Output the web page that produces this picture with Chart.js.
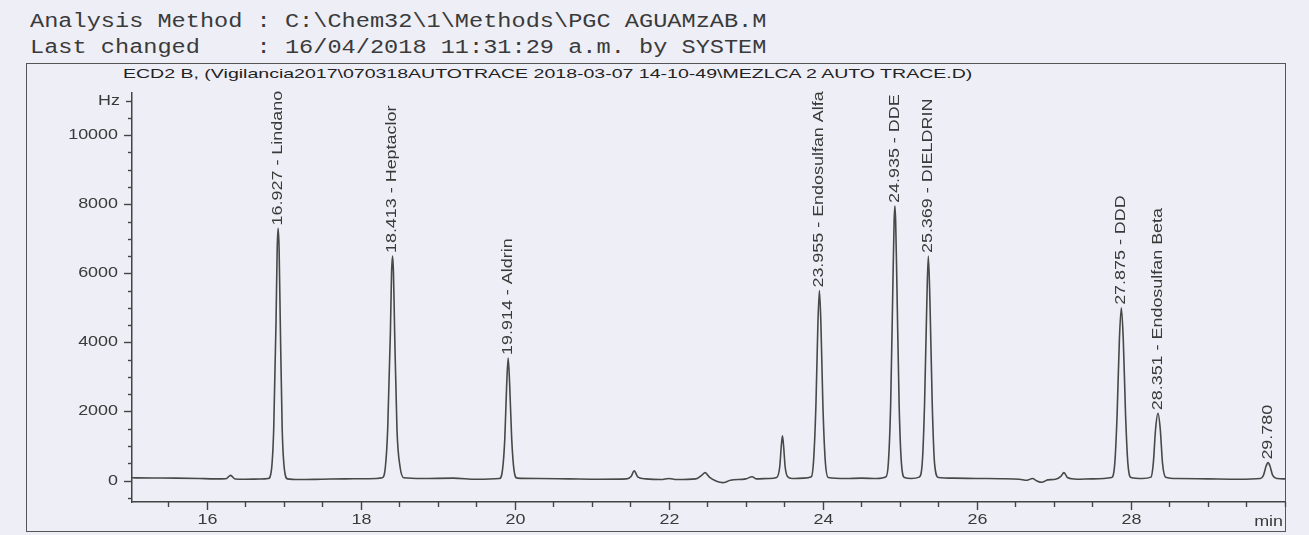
<!DOCTYPE html>
<html>
<head>
<meta charset="utf-8">
<script src="https://cdn.jsdelivr.net/npm/chart.js@4"></script>
<style>
  body { margin: 0; width: 1309px; height: 535px; overflow: hidden; position: relative; background: #eeeef6; }
  .hdr { position: absolute; left: 30px; font: 20px "Liberation Mono", monospace; line-height: 20px; color: #3a3a3a;
         white-space: pre; transform-origin: 0 0; transform: scaleX(1.18); }
  #frame { position: absolute; left: 26px; top: 63px; width: 1260px; height: 469px; border: 1.5px solid #555; box-sizing: border-box; }
  #ttl { position: absolute; left: 123px; top: 66px; font: 13px "Liberation Sans", Arial, sans-serif; line-height: 16px;
         color: #222; white-space: pre; transform-origin: 0 0; }
  canvas { position: absolute; left: 0; top: 0; }
</style>
</head>
<body>
<div class="hdr" style="top:12px">Analysis Method : C:\Chem32\1\Methods\PGC AGUAMzAB.M</div>
<div class="hdr" style="top:38px">Last changed    : 16/04/2018 11:31:29 a.m. by SYSTEM</div>
<div id="frame"></div>
<div id="ttl">ECD2 B, (Vigilancia2017\070318AUTOTRACE 2018-03-07 14-10-49\MEZLCA 2 AUTO TRACE.D)</div>
<canvas id="chrom" width="1309" height="535"></canvas>
<script>
// ==== Trace (retention time in min, signal in Hz) ====
var traceTime = [
  15.03, 15.3, 15.6, 15.9, 16.1, 16.25, 16.31, 16.37, 16.5, 16.7, 16.80,
  16.84, 16.87, 16.90, 16.915, 16.927, 16.94, 16.955, 16.98, 17.01, 17.05,
  17.2, 17.5, 17.8, 18.1, 18.28,
  18.32, 18.35, 18.385, 18.40, 18.413, 18.425, 18.44, 18.47, 18.51, 18.56,
  18.8, 19.2, 19.5, 19.8,
  19.84, 19.87, 19.895, 19.914, 19.933, 19.96, 19.99, 20.03,
  20.3, 20.7, 21.1, 21.45, 21.51, 21.55, 21.6, 21.7, 21.9, 22.0, 22.1, 22.35, 22.43, 22.47, 22.53,
  22.62, 22.7, 22.8, 23.0, 23.08, 23.14, 23.3, 23.40,
  23.44, 23.46, 23.475, 23.49, 23.51, 23.54, 23.6, 23.75, 23.85,
  23.88, 23.91, 23.935, 23.955, 23.975, 24.0, 24.03, 24.07,
  24.3, 24.5, 24.7, 24.82,
  24.85, 24.88, 24.91, 24.925, 24.935, 24.945, 24.96, 24.99, 25.02, 25.06,
  25.15, 25.25,
  25.29, 25.32, 25.35, 25.369, 25.39, 25.42, 25.45, 25.50,
  25.7, 26.0, 26.3, 26.55, 26.65, 26.72, 26.78, 26.84, 26.92, 27.02, 27.09, 27.13, 27.18, 27.3, 27.5, 27.75,
  27.79, 27.82, 27.85, 27.875, 27.90, 27.93, 27.96, 28.0,
  28.15, 28.26,
  28.29, 28.32, 28.351, 28.38, 28.41, 28.45,
  28.6, 29.0, 29.4, 29.68,
  29.72, 29.755, 29.78, 29.805, 29.84, 29.9, 30.0
];
var traceHz = [
  80, 75, 70, 60, 50, 55, 150, 45, 40, 45, 60,
  300, 1500, 4600, 6700, 7300, 6700, 4600, 1500, 300, 50,
  30, 40, 50, 55, 80,
  400, 1500, 4300, 6000, 6500, 6000, 4300, 1500, 400, 80,
  60, 70, 40, 60,
  300, 1200, 2800, 3550, 2800, 1200, 300, 70,
  60, 50, 40, 50, 120, 280, 100, 50, 30, 60, 30, 50, 160, 230, 90,
  -20, -60, 10, 50, 110, 50, 60, 90,
  400, 1000, 1300, 1000, 400, 120, 60, 70, 110,
  600, 2200, 4500, 5500, 4500, 2200, 600, 90,
  60, 70, 60, 110,
  500, 2200, 5800, 7500, 7950, 7500, 5800, 2200, 500, 90,
  60, 100,
  500, 2200, 5200, 6500, 5200, 2200, 500, 90,
  70, 60, 55, 40, 10, 60, -10, -50, 20, 40, 120, 230, 80, 40, 50, 90,
  500, 1900, 4100, 5000, 4100, 1900, 500, 90,
  60, 100,
  500, 1500, 1950, 1500, 500, 100,
  60, 50, 40, 60,
  150, 420, 520, 420, 150, 60, 50
];

// ==== Peak labels ====
var peakTime = [16.927, 18.413, 19.914, 23.955, 24.935, 25.369, 27.875, 28.351, 29.780];
var peakApex = [7300, 6500, 3550, 5500, 7950, 6500, 5000, 1950, 520];
var peakName = ['Lindano', 'Heptaclor', 'Aldrin', 'Endosulfan Alfa', 'DDE', 'DIELDRIN', 'DDD', 'Endosulfan Beta', ''];

// ==== Axis ticks ====
var yLabelled = [0, 2000, 4000, 6000, 8000, 10000];
var yUnitTick = 11000;   // the "Hz" tick
var xLabelled = [16, 18, 20, 22, 24, 26, 28];
var yMinorStep = 500;
var xMinorStep = 0.5;

var points = [];
for (var i in traceTime) {
    points.push({ x: traceTime[i], y: traceHz[i] });
}

var STRETCH = 1.28; // printout font is wider than Arial
var INK = '#3a3a3a';

function wideText(ctx, txt, x, y, align) {
    ctx.save();
    ctx.translate(x, y);
    ctx.scale(STRETCH, 1);
    ctx.textAlign = align;
    ctx.fillText(txt, 0, 0);
    ctx.restore();
}

// every step inside the scale range
function stepTicks(s, step) {
    var out = [];
    var n0 = Math.ceil(s.min / step - 1e-9), n1 = Math.floor(s.max / step + 1e-9);
    for (var n = n0; n <= n1; n++) out.push({ value: Math.round(n * step * 1000) / 1000 });
    s.ticks = out;
}

// draws ticks, tick labels and peak labels
var printMarks = {
    id: 'printMarks',
    afterDraw: function(chart) {
        var ctx = chart.ctx, a = chart.chartArea;
        var x = chart.scales.x, y = chart.scales.y;
        ctx.save();
        ctx.strokeStyle = '#444';
        ctx.lineWidth = 1.4;
        ctx.fillStyle = INK;
        ctx.font = '14px "Liberation Sans", Arial, sans-serif';
        ctx.textBaseline = 'middle';

        // y ticks
        y.ticks.forEach(function(t) {
            var py = Math.round(y.getPixelForValue(t.value)) + 0.5;
            var lab = yLabelled.indexOf(t.value) >= 0;
            var len = lab ? 8 : (t.value === yUnitTick ? 6 : 4);
            ctx.beginPath(); ctx.moveTo(a.left - len, py); ctx.lineTo(a.left, py); ctx.stroke();
            if (lab) wideText(ctx, String(t.value), a.left - 14, py, 'right');
            if (t.value === yUnitTick) wideText(ctx, 'Hz', a.left - 12, py, 'right');
        });

        // x ticks
        x.ticks.forEach(function(t) {
            var px = Math.round(x.getPixelForValue(t.value)) + 0.5;
            var big = xLabelled.indexOf(t.value) >= 0;
            var len = big ? 8 : 5;
            ctx.beginPath(); ctx.moveTo(px, a.bottom); ctx.lineTo(px, a.bottom + len); ctx.stroke();
            if (big) wideText(ctx, String(t.value), px, a.bottom + 18, 'center');
        });
        wideText(ctx, 'min', a.right - 2, a.bottom + 20, 'right');

        // peak labels, rotated, starting just above the apex
        for (var k = 0; k < peakTime.length; k++) {
            var txt = peakTime[k].toFixed(3) + (peakName[k] ? ' - ' + peakName[k] : '');
            var px2 = x.getPixelForValue(peakTime[k]);
            var py2 = y.getPixelForValue(peakApex[k]) - 3;
            ctx.save();
            ctx.translate(px2, py2);
            ctx.rotate(-Math.PI / 2);
            ctx.scale(STRETCH, 1);
            ctx.textAlign = 'left';
            ctx.fillText(txt, 0, 0);
            ctx.restore();
        }
        ctx.restore();
    }
};

var config = {
    type: 'line',
    data: {
        datasets: [{
            data: points,
            borderColor: '#484848',
            borderWidth: 1.6,
            fill: false,
            cubicInterpolationMode: 'monotone',
            pointRadius: 0
        }]
    },
    options: {
        responsive: false,
        animation: false,
        layout: {
            padding: { left: 132, right: 24, top: 93, bottom: 33 }
        },
        plugins: {
            legend: { display: false },
            tooltip: { enabled: false }
        },
        scales: {
            x: {
                type: 'linear',
                min: 15.03,
                max: 30,
                afterFit: function(s) { s.height = 0; },
                afterBuildTicks: function(s) { stepTicks(s, xMinorStep); },
                ticks: { display: false },
                grid: { display: false },
                border: { display: true, color: '#444', width: 1.5 }
            },
            y: {
                min: -620,
                max: 11220,
                afterFit: function(s) { s.width = 0; },
                afterBuildTicks: function(s) { stepTicks(s, yMinorStep); },
                ticks: { display: false },
                grid: { display: false },
                border: { display: true, color: '#444', width: 1.5 }
            }
        }
    },
    plugins: [printMarks]
};

new Chart(document.getElementById('chrom').getContext('2d'), config);

// stretch the title to the printed width
var ttl = document.getElementById('ttl');
ttl.style.transform = 'scaleX(' + (850 / ttl.offsetWidth) + ')';
</script>
</body>
</html>
